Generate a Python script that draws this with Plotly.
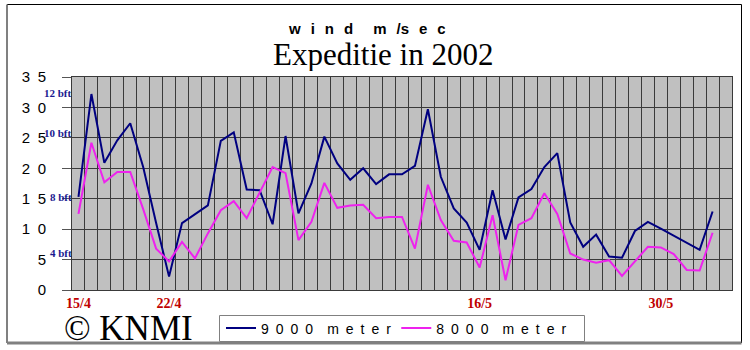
import pandas as pd
import plotly.graph_objects as go

# Daily categories of the expedition (one per day, last one left empty)
days = [f"{d.day}/{d.month}" for d in pd.date_range("2002-04-15", periods=51)]

# Wind speed (m/s) per day
wind_9000 = [15.3, 32.2, 20.9, 24.6, 27.4, 20.2, 11.0, 2.2, 11.0, 12.4,
             13.9, 24.5, 25.9, 16.5, 16.4, 10.8, 25.3, 12.6, 17.5, 25.2,
             20.8, 18.1, 20.0, 17.4, 19.0, 19.0, 20.4, 29.7, 18.6, 13.4,
             11.1, 6.6, 16.4, 8.3, 15.2, 16.6, 20.2, 22.5, 11.1, 7.1,
             9.1, 5.5, 5.3, 9.7, 11.2, 10.1, 8.9, 7.8, 6.6, 12.9]
wind_8000 = [12.5, 24.2, 17.7, 19.4, 19.4, 13.3, 6.8, 4.7, 7.9, 5.2,
             9.3, 13.1, 14.6, 11.8, 16.0, 20.2, 19.2, 8.2, 11.2, 17.6,
             13.5, 13.9, 14.0, 11.8, 12.0, 12.0, 6.8, 17.3, 11.5, 8.1,
             7.8, 3.7, 12.3, 1.6, 10.7, 11.8, 15.9, 12.5, 6.0, 5.0,
             4.5, 4.9, 2.3, 4.7, 7.1, 7.0, 5.9, 3.3, 3.2, 9.4]

date_labels = ["15/4", "22/4", "16/5", "30/5"]
y_ticks = [0, 5, 10, 15, 20, 25, 30, 35]
y_tick_text = ["0" if v == 0 else "\u2002".join(str(v)) for v in y_ticks]

bft_text = ["12 bft", "10 bft", "8 bft", "4 bft"]
bft_pos = [32.3, 25.8, 15.3, 6.0]

W, H = 750, 350
ML, MR, MT, MB = 72, 18, 77, 60
PW, PH = W - ML - MR, H - MT - MB


def px(x):
    return (x - ML) / PW


def py(y):
    return (H - MB - y) / PH


def spaced(s):
    # widen the letter spacing the way the chart's labels are set
    a, b = s.split(" ")
    return "\u2002".join(a) + "\u2002\u2002" + "\u2002".join(b)


fig = go.Figure()
fig.add_trace(go.Scatter(
    x=list(range(len(wind_9000))), y=wind_9000, mode="lines", name=spaced("9000 meter"),
    line=dict(color="#000080", width=2)))
fig.add_trace(go.Scatter(
    x=list(range(len(wind_8000))), y=wind_8000, mode="lines", name=spaced("8000 meter"),
    line=dict(color="#EE22EE", width=2)))

grid_col = "#3a3a3a"
fig.update_xaxes(
    range=[-0.5, len(days) - 0.5],
    tickvals=[days.index(d) for d in date_labels],
    ticktext=date_labels,
    tickfont=dict(family="Liberation Serif", size=14, color="#C00000", weight="bold"),
    ticks="", showgrid=False, zeroline=False,
    showline=True, linecolor=grid_col, linewidth=1, mirror=True,
    minor=dict(tickvals=[i - 0.5 for i in range(len(days) + 1)],
               showgrid=True, gridcolor=grid_col, gridwidth=1, ticks=""),
)
fig.update_yaxes(
    range=[0, 35], tickvals=y_ticks, ticktext=y_tick_text,
    tickfont=dict(family="Liberation Sans", size=15, color="black"),
    ticks="outside", ticklen=9, tickcolor="#555555",
    ticklabelstandoff=13,
    showgrid=True, gridcolor=grid_col, gridwidth=1, zeroline=False,
    showline=True, linecolor=grid_col, linewidth=1, mirror=True,
)

annotations = [
    dict(text="w\u2002\u2006i\u2002\u2006n\u2002\u2006d\u2002\u2006\u2002\u2006m\u2002\u2006/s\u2002\u2006e\u2002\u2006c",
         x=px(366.5), y=py(28.4), height=16,
         font=dict(family="Liberation Sans", size=15, color="black", weight="bold")),
    dict(text="Expeditie in 2002", x=px(382.5), y=py(53.5), height=34,
         font=dict(family="Liberation Serif", size=31, color="black")),
    dict(text="© KNMI", x=px(62), y=py(327.5), xanchor="left", height=26,
         font=dict(family="Liberation Serif", size=35, color="black")),
]
for a in annotations:
    a.update(xref="paper", yref="paper", showarrow=False)
    a.setdefault("xanchor", "center")
    a.setdefault("yanchor", "middle")
for t, v in zip(bft_text, bft_pos):
    annotations.append(dict(text=t, x=0, xref="paper", y=v, yref="y",
                            xanchor="right", yanchor="middle", showarrow=False, xshift=2,
                            font=dict(family="Liberation Serif", size=11, color="#1A1A90", weight="bold")))

# Chart frame (thin black top/right, heavier grey left/bottom) and legend box
shapes = [
    dict(type="line", x0=px(7), x1=px(741.5), y0=py(4.5), y1=py(4.5), line=dict(color="black", width=1)),
    dict(type="line", x0=px(741.5), x1=px(741.5), y0=py(4.5), y1=py(343), line=dict(color="black", width=1)),
    dict(type="line", x0=px(7), x1=px(7), y0=py(4.5), y1=py(343), line=dict(color="#808080", width=2)),
    dict(type="line", x0=px(7), x1=px(741.5), y0=py(343), y1=py(343), line=dict(color="#808080", width=3)),
    dict(type="rect", x0=px(219.5), x1=px(584.5), y0=py(315.5), y1=py(341.5),
         line=dict(color="#808080", width=1), fillcolor="white"),
]
for s in shapes:
    s.update(xref="paper", yref="paper", layer="above")

fig.update_layout(
    width=W, height=H,
    margin=dict(l=ML, r=MR, t=MT, b=MB, autoexpand=False),
    paper_bgcolor="white", plot_bgcolor="#C0C0C0",
    showlegend=True,
    legend=dict(orientation="h", x=px(221), y=py(328.5), xanchor="left", yanchor="middle",
                borderwidth=0, bgcolor="rgba(0,0,0,0)",
                font=dict(family="Liberation Sans", size=14, color="black")),
    annotations=annotations, shapes=shapes,
)

fig.write_html("out.html")
